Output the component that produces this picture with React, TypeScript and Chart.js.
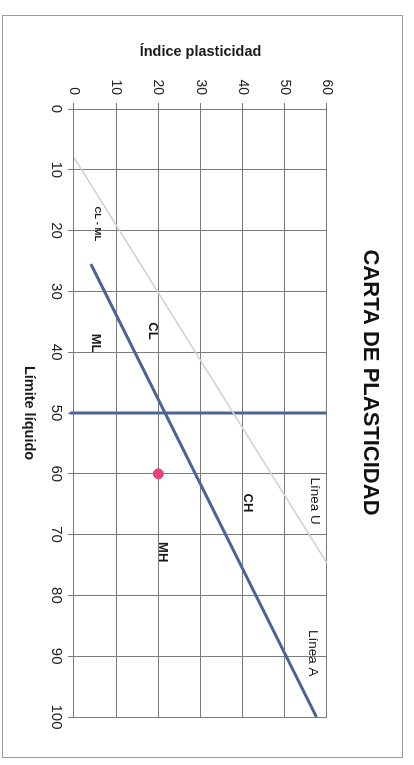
import React, { useEffect, useRef } from "react";
import { Chart, registerables } from "chart.js";

Chart.register(...registerables);

// ---- data ----
const limiteLiquidoTicks = [0, 10, 20, 30, 40, 50, 60, 70, 80, 90, 100];
const indicePlasticidadTicks = [0, 10, 20, 30, 40, 50, 60];

const lineaA_LL = [25.5, 100];
const lineaA_PI = [4, 57.5];

const lineaU_LL = [8, 74.7];
const lineaU_PI = [0, 60];

const limite50_LL = [50, 50];
const limite50_PI = [-1, 60];

const muestra_LL = [60];
const muestra_PI = [20];

const zoneLabels = ["CL - ML", "CL", "ML", "CH", "MH", "Línea U", "Línea A"];
const zoneLL = [18.9, 36.5, 38.5, 64.8, 72.9, 64.5, 89.5];
const zonePI = [5.6, 18.6, 5.2, 41.1, 21, 57.2, 56.5];
const zoneFonts = ["bold 9.5px", "bold 13px", "bold 13px", "bold 13px", "bold 13px", "13.5px", "13.5px"];

const FONT = "'Liberation Sans', Arial, sans-serif";

const toPoints = (xs: number[], ys: number[]) => xs.map((x, i) => ({ x, y: ys[i] }));

const W = 765;
const H = 414;

const extrasPlugin = {
  id: "extras",
  beforeDraw(chart: any) {
    const ctx = chart.ctx;
    ctx.save();
    ctx.fillStyle = "#ffffff";
    ctx.fillRect(0, 0, chart.width, chart.height);
    ctx.strokeStyle = "#9a9a9a";
    ctx.lineWidth = 1;
    ctx.strokeRect(15.5, 11.5, 742, 400);
    ctx.restore();
  },
  afterDatasetsDraw(chart: any) {
    const ctx = chart.ctx;
    const xs = chart.scales.x;
    const ys = chart.scales.y;
    ctx.save();
    ctx.fillStyle = "#1a1a1a";
    ctx.textAlign = "center";
    ctx.textBaseline = "middle";
    zoneLabels.forEach((t, i) => {
      ctx.font = `${zoneFonts[i]} ${FONT}`;
      ctx.fillText(t, xs.getPixelForValue(zoneLL[i]), ys.getPixelForValue(zonePI[i]));
    });
    ctx.restore();
  },
};

export default function App() {
  const ref = useRef<HTMLCanvasElement | null>(null);

  useEffect(() => {
    if (!ref.current) return;
    Chart.defaults.font.family = FONT;
    const chart = new Chart(ref.current, {
      type: "scatter",
      data: {
        datasets: [
          {
            label: "Línea U",
            data: toPoints(lineaU_LL, lineaU_PI),
            showLine: true,
            borderColor: "#d2d2d2",
            borderWidth: 1.5,
            pointRadius: 0,
          },
          {
            label: "Límite 50",
            data: toPoints(limite50_LL, limite50_PI),
            showLine: true,
            borderColor: "#4a6493",
            borderWidth: 3,
            pointRadius: 0,
            clip: 8,
          },
          {
            label: "Línea A",
            data: toPoints(lineaA_LL, lineaA_PI),
            showLine: true,
            borderColor: "#4a6493",
            borderWidth: 3,
            pointRadius: 0,
          },
          {
            label: "Muestra",
            data: toPoints(muestra_LL, muestra_PI),
            showLine: false,
            pointRadius: 5,
            backgroundColor: "#e5437a",
            borderColor: "#e5437a",
          },
        ],
      },
      options: {
        animation: false,
        responsive: false,
        maintainAspectRatio: false,
        devicePixelRatio: 1,
        layout: { padding: 0 },
        plugins: {
          legend: { display: false },
          tooltip: { enabled: false },
          title: {
            display: true,
            text: "CARTA DE PLASTICIDAD",
            color: "#111",
            font: { size: 22, weight: "bold", family: FONT },
            padding: { top: 30.8, bottom: 29.8 },
          },
        },
        scales: {
          x: {
            type: "linear",
            position: "bottom",
            min: 0,
            max: 100,
            afterBuildTicks: (s: any) => {
              s.ticks = limiteLiquidoTicks.map((v) => ({ value: v }));
            },
            afterFit: (s: any) => {
              s.height = 74;
            },
            ticks: { color: "#222", font: { size: 15 }, padding: 3, maxRotation: 0 },
            grid: { color: "#7a7a7a", lineWidth: 1, tickLength: 6, drawTicks: true },
            border: { color: "#7a7a7a" },
            title: {
              display: true,
              text: "Límite líquido",
              color: "#1a1a1a",
              font: { size: 14.5, weight: "bold" },
              padding: { top: 0, bottom: 20.6 },
            },
          },
          y: {
            type: "linear",
            position: "left",
            min: 0,
            max: 60,
            afterBuildTicks: (s: any) => {
              s.ticks = indicePlasticidadTicks.map((v) => ({ value: v }));
            },
            afterFit: (s: any) => {
              s.width = 109;
            },
            ticks: { color: "#222", font: { size: 14 }, padding: 8 },
            grid: { color: "#7a7a7a", lineWidth: 1, tickLength: 6, drawTicks: true },
            border: { color: "#7a7a7a" },
            title: {
              display: true,
              text: "Índice plasticidad",
              color: "#1a1a1a",
              font: { size: 14.5, weight: "bold" },
              padding: { top: 43.3, bottom: 0 },
            },
          },
          y2: {
            type: "linear",
            position: "right",
            display: true,
            afterFit: (s: any) => {
              s.width = 48;
            },
            ticks: { display: false },
            grid: { display: false },
            border: { display: false },
          },
        },
      },
      plugins: [extrasPlugin],
    } as any);
    return () => chart.destroy();
  }, []);

  return (
    <div
      style={{
        position: "fixed",
        left: 0,
        top: 0,
        width: 414,
        height: 765,
        overflow: "hidden",
        background: "#fff",
      }}
    >
      <div
        style={{
          position: "absolute",
          left: 0,
          top: 0,
          width: W,
          height: H,
          transformOrigin: "0 0",
          transform: "translateX(414px) rotate(90deg)",
        }}
      >
        <canvas ref={ref} width={W} height={H} style={{ display: "block", width: W, height: H }} />
      </div>
    </div>
  );
}
